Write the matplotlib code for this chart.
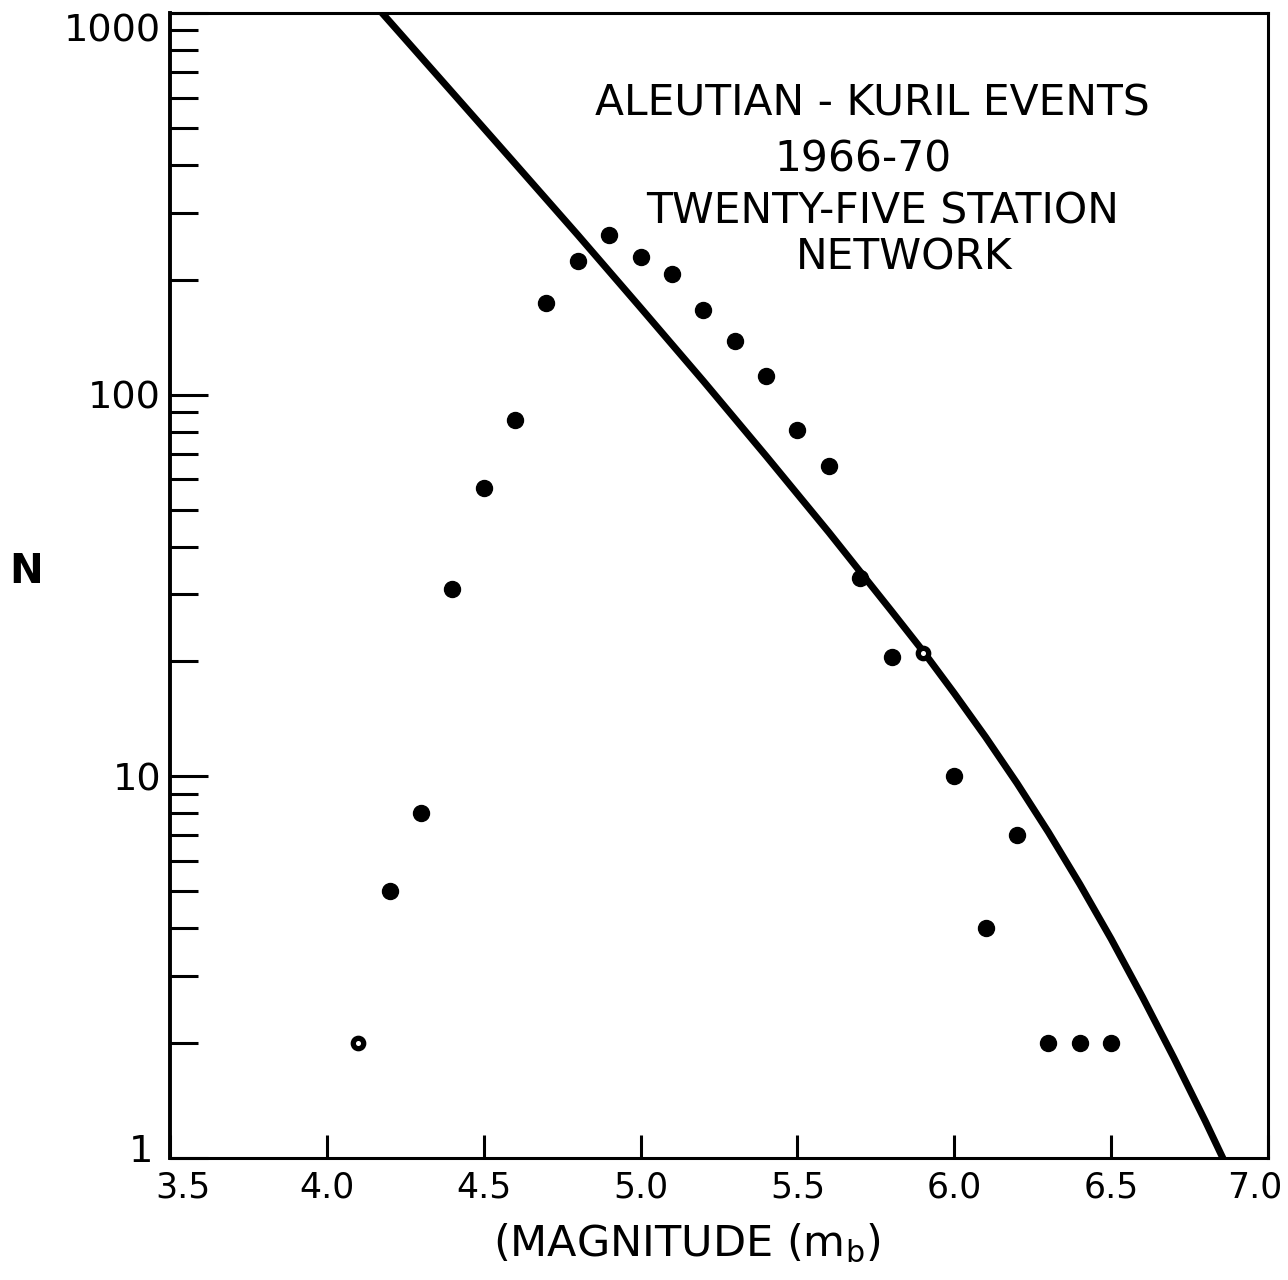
import matplotlib
matplotlib.use("Agg")
import matplotlib.pyplot as plt
import matplotlib.transforms as mtransforms
from matplotlib.ticker import LogLocator, NullFormatter, NullLocator

# ---------------- data ----------------
magnitudes = [4.1, 4.2, 4.3, 4.4, 4.5, 4.6, 4.7, 4.8, 4.9, 5.0, 5.1, 5.2, 5.3,
              5.4, 5.5, 5.6, 5.7, 5.8, 5.9, 6.0, 6.1, 6.2, 6.3, 6.4, 6.5]
counts = [2, 5, 8, 31, 57, 86, 174, 224, 262, 229, 207, 167, 138,
          112, 81, 65, 33, 20.5, 21, 10, 4, 7, 2, 2, 2]
open_points = [4.1, 5.9]          # points drawn as rings in the scan

curve_mag = [4.1, 4.4, 4.6, 4.8, 5.0, 5.2, 5.4, 5.6, 5.8, 5.9, 6.0, 6.1, 6.2,
             6.3, 6.4, 6.5, 6.6, 6.7, 6.8, 6.9]
curve_n = [1177, 619, 403, 262, 169, 108.6, 69.1, 43.6, 27.1, 21.3, 16.5, 12.67, 9.59,
           7.14, 5.22, 3.75, 2.64, 1.83, 1.25, 0.839]

x_ticks = [3.5, 4.0, 4.5, 5.0, 5.5, 6.0, 6.5, 7.0]
x_tick_labels = ["3.5", "4.0", "4.5", "5.0", "5.5", "6.0", "6.5", "7.0"]
y_ticks = [1, 10, 100, 1000]
y_tick_labels = ["1", "10", "100", "1000"]

title_lines = ["ALEUTIAN - KURIL EVENTS", "1966-70", "TWENTY-FIVE STATION", "NETWORK"]
x_label = r"(MAGNITUDE (m$_{\mathregular{b}}$)"
y_label = "N"

# ---------------- figure ----------------
W, H = 1288, 1280
fig = plt.figure(figsize=(W / 100, H / 100), dpi=100)
plt.rcParams["font.family"] = ["DejaVu Sans"]

L, R, T, B = 170, 1268, 13, 1158
ax = fig.add_axes([L / W, 1 - B / H, (R - L) / W, (B - T) / H])
ax.set_yscale("log")
ax.set_xlim(3.5, 7.0)
ax.set_ylim(1, 1000)

# fitted curve
ax.plot(curve_mag, curve_n, color="black", lw=5, solid_joinstyle="round",
        solid_capstyle="butt", zorder=3)

# data points
fm = [m for m in magnitudes if m not in open_points]
fc = [c for m, c in zip(magnitudes, counts) if m not in open_points]
om = [m for m in magnitudes if m in open_points]
oc = [c for m, c in zip(magnitudes, counts) if m in open_points]
ax.plot(fm, fc, linestyle="none", marker="o", ms=11.5, mfc="black", mec="black", zorder=4)
ax.plot(om, oc, linestyle="none", marker="o", ms=7.5, mfc="white", mec="black",
        mew=3.8, zorder=4)

# spines
for s in ax.spines.values():
    s.set_linewidth(2.2)
    s.set_color("black")
ax.spines["left"].set_linewidth(2.8)

# ticks
ax.set_xticks(x_ticks)
ax.set_xticklabels(x_tick_labels)
ax.xaxis.set_minor_locator(NullLocator())
ax.set_yticks(y_ticks)
ax.set_yticklabels(y_tick_labels)
ax.yaxis.set_minor_locator(LogLocator(base=10, subs=range(2, 10)))
ax.yaxis.set_minor_formatter(NullFormatter())

ax.tick_params(axis="x", which="major", direction="in", length=16.5, width=2.2,
               pad=9, labelsize=25, top=False)
ax.tick_params(axis="y", which="major", direction="in", length=27, width=2.2,
               pad=6.5, labelsize=27.5, right=False)
ax.tick_params(axis="y", which="minor", direction="in", length=20, width=2.2, right=False)

# nudge edge labels like the original lettering
xl = ax.get_xticklabels()
xl[0].set_transform(xl[0].get_transform() + mtransforms.ScaledTranslation(13 / 100, 0, fig.dpi_scale_trans))
xl[-1].set_transform(xl[-1].get_transform() + mtransforms.ScaledTranslation(-13 / 100, 0, fig.dpi_scale_trans))
yl = ax.get_yticklabels()
yl[0].set_transform(yl[0].get_transform() + mtransforms.ScaledTranslation(-8 / 100, 10 / 100, fig.dpi_scale_trans))
yl[-1].set_transform(yl[-1].get_transform() + mtransforms.ScaledTranslation(0, -14 / 100, fig.dpi_scale_trans))

# axis labels
ax.set_xlabel(x_label, fontsize=31)
ax.xaxis.set_label_coords((687 - L) / (R - L), (B - 1222) / (B - T))
ax.xaxis.label.set_va("top")
ax.set_ylabel(y_label, rotation=0, fontsize=29, fontweight="bold", va="center", ha="center")
ax.yaxis.set_label_coords((26 - L) / (R - L), (B - 572) / (B - T))

# annotation block
title_pos = [(872, 104), (863, 160), (883, 211), (904, 258)]
for txt, (px, py) in zip(title_lines, title_pos):
    fig.text(px / W, 1 - py / H, txt, ha="center", va="center", fontsize=30.5)

fig.savefig("out.png", dpi=100, facecolor="white")
